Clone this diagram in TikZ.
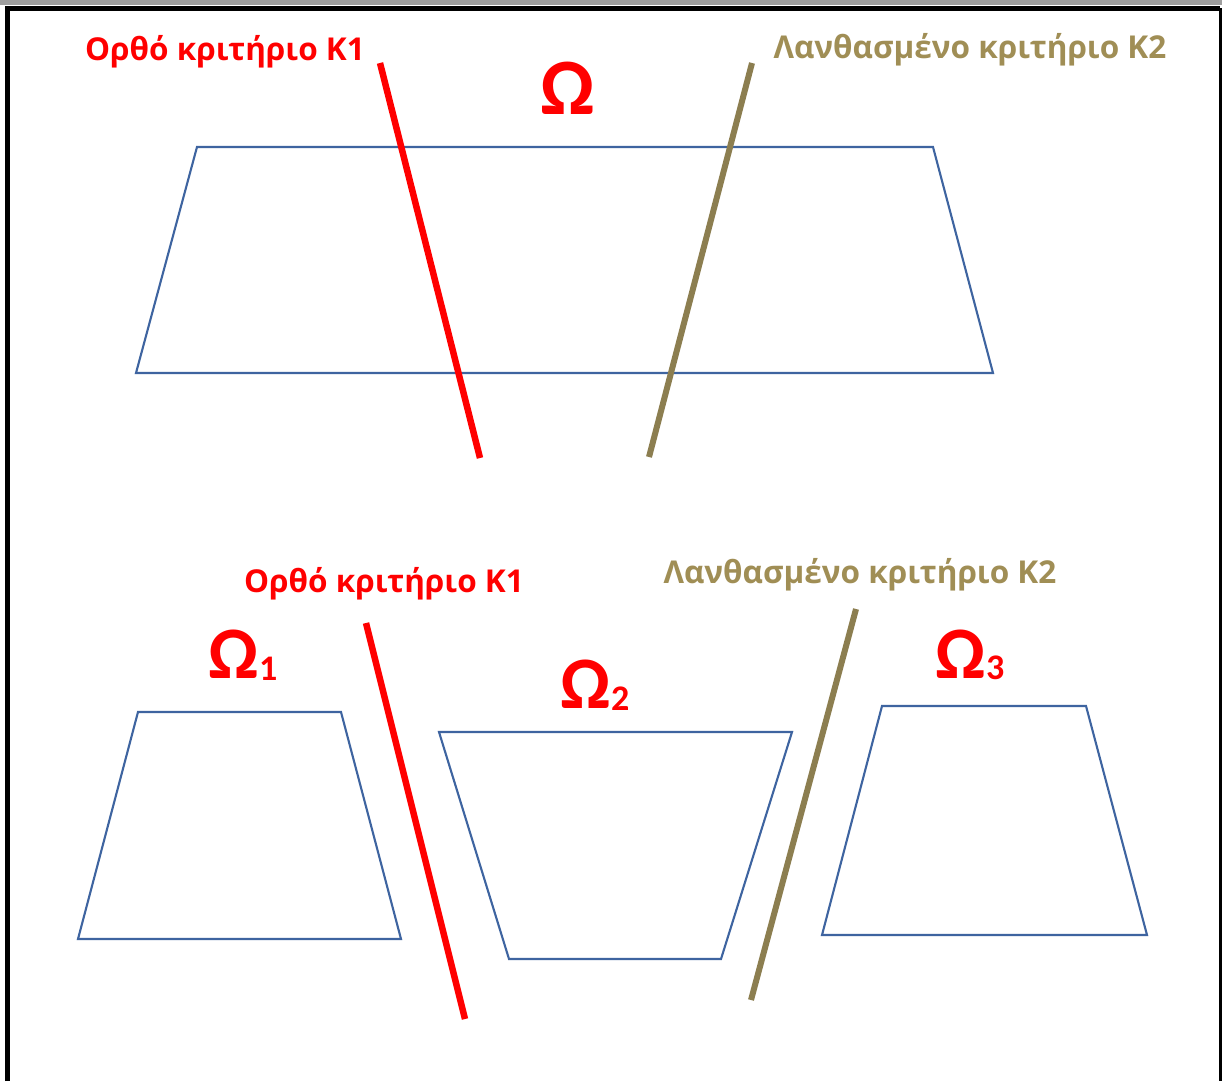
\documentclass[tikz,border=0pt]{standalone}
\usepackage{fontspec}
\setmainfont{Carlito}
\newfontfamily\lblfont{Open Sans}
\definecolor{trapblue}{HTML}{3E64A0}
\definecolor{kred}{HTML}{FF0000}
\definecolor{kolive}{HTML}{8C7E50}
\definecolor{koltext}{HTML}{A08E55}
\begin{document}
\begin{tikzpicture}[x=1pt,y=-1pt,
  trap/.style={draw=trapblue, line width=2.1pt, line join=miter},
  cutred/.style={draw=kred, line width=6.5pt},
  cutolive/.style={draw=kolive, line width=6pt},
  lblred/.style={text=kred, font=\lblfont\bfseries\fontsize{31.5}{34}\selectfont, inner sep=0pt},
  lblolive/.style={text=koltext, font=\lblfont\bfseries\fontsize{31.5}{34}\selectfont, inner sep=0pt},
  omega/.style={text=kred, font=\bfseries\fontsize{80}{84}\selectfont, inner sep=0pt},
  omegasm/.style={text=kred, font=\bfseries\fontsize{74}{78}\selectfont, inner sep=0pt}]
\useasboundingbox (0,0) rectangle (1222,1081);
\fill[white] (0,0) rectangle (1222,1081);
% frame
\fill[black!38] (0,0) rectangle (1222,5);
\draw[black, line width=5pt] (7.5,1081) -- (7.5,8.5) -- (1220,8.5);
\draw[black, line width=3pt] (1220,8.5) -- (1220,1081);
% top
\draw[trap] (197,147) -- (933,147) -- (993,373) -- (136,373) -- cycle;
\coordinate (r1a) at (380,63); \coordinate (r1b) at (480,458);
\coordinate (o1a) at (752,63); \coordinate (o1b) at (649,457);
\draw[cutred] (r1a) -- (r1b);
\draw[cutolive] (o1a) -- (o1b);
\node[lblred] (t1) at (225,52) {Ορθό κριτήριο K1};
\node[lblolive] (t2) at (970,50) {Λανθασμένο κριτήριο K2};
\node[omega] (om) at (568,88) {Ω};
% bottom
\draw[trap] (138,712) -- (341,712) -- (401,939) -- (78,939) -- cycle;
\draw[trap] (439,732) -- (792,732) -- (721,959) -- (509,959) -- cycle;
\draw[trap] (882,706) -- (1086,706) -- (1147,935) -- (822,935) -- cycle;
\coordinate (r2a) at (366,623); \coordinate (r2b) at (465,1019);
\coordinate (o2a) at (856,609); \coordinate (o2b) at (751,1000);
\draw[cutred] (r2a) -- (r2b);
\draw[cutolive] (o2a) -- (o2b);
\node[lblred] (t3) at (384,584) {Ορθό κριτήριο K1};
\node[lblolive] (t4) at (860,575) {Λανθασμένο κριτήριο K2};
\node[omegasm] (om1) at (243,655) {Ω\raisebox{-0.02em}{\fontsize{36}{38}\selectfont 1}};
\node[omegasm] (om2) at (595,685) {Ω\raisebox{-0.02em}{\fontsize{36}{38}\selectfont 2}};
\node[omegasm] (om3) at (970,655) {Ω\raisebox{-0.02em}{\fontsize{36}{38}\selectfont 3}};
\end{tikzpicture}
\end{document}
